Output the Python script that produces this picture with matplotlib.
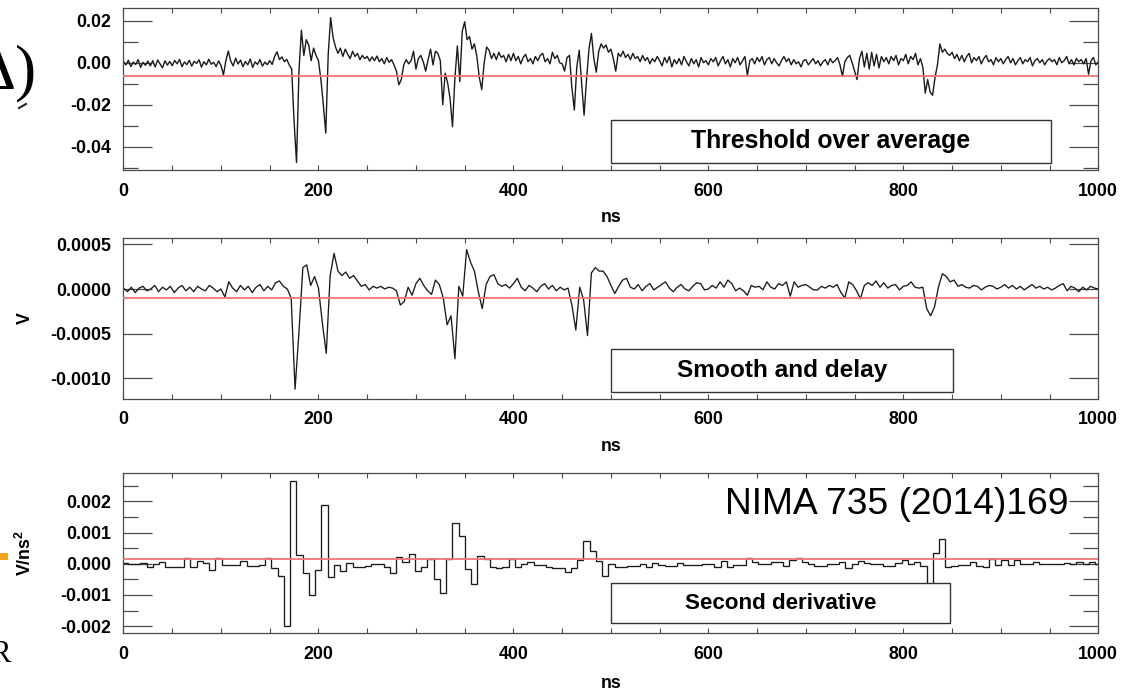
import numpy as np
import matplotlib
matplotlib.use("Agg")
import matplotlib.pyplot as plt
from matplotlib.patches import Rectangle
from matplotlib.lines import Line2D
from matplotlib.ticker import MultipleLocator, FixedLocator, FixedFormatter, NullLocator

plt.rcParams['font.family'] = ['Liberation Sans', 'DejaVu Sans']
plt.rcParams['font.weight'] = 'bold'
plt.rcParams['mathtext.fontset'] = 'custom'
plt.rcParams['mathtext.rm'] = 'Liberation Sans:bold'
plt.rcParams['mathtext.bf'] = 'Liberation Sans:bold'

# ---------------------------------------------------------------- data
# Raw digitised waveform (mV), one sample every 2.5 ns from 0 to 1000 ns
raw_step_ns = 2.5
raw_mv = [
    0.5, -1.0, 1.2, -1.8, 0.3, -0.8, 1.5, -2.2, 0.2, -1.2, 0.8, -1.5, 1.0, -2.0, 1.3, -0.6, -2.4, 0.9, -1.1, 0.6,
    -1.4, 1.1, -0.5, 1.6, -1.9, 0.4, -0.9, 1.2, -1.6, 0.7, -0.3, 1.4, -2.1, 0.5, -1.0, 1.7, -0.7, 0.2, -1.8, 0.9,
    -1.2, -5.8, 1.0, 5.6, 0.8, -1.5, 2.2, -0.6, 1.3, -1.9, 0.6, -1.0, 1.8, -2.2, 0.4, -0.8, 1.5, -1.6, 0.3, -0.9,
    1.0, -0.8, 3.0, 5.2, 1.5, 2.8, 0.5, 1.6, -1.0, -3.0, -28.0, -47.5, -4.0, 15.5, 3.5, 11.0, 8.5, 1.0, 7.0, 3.5,
    1.0, -8.0, -20.0, -33.5, 4.0, 21.5, 12.0, 7.5, 4.5, 7.0, 3.0, 6.5, 4.0, 2.0, 5.5, 3.0, 4.5, 1.5, 3.5, 2.0,
    3.0, 0.8, 2.8, 1.0, 3.2, 0.5, 2.0, -0.5, 2.5, 0.2, 1.5, -1.0, -4.0, -10.5, -8.0, -1.0, 1.5, -0.5, 1.0, 5.5,
    -3.0, 2.0, 3.5, 0.5, -4.0, 1.5, 6.5, -1.0, 5.5, 4.5, 1.0, -20.0, -5.0, -9.5, -17.0, -30.5, -7.0, 8.0, -9.0, 15.0,
    19.5, 11.0, 12.5, 6.5, 9.0, 3.0, -7.0, -12.8, 0.0, 7.5, 6.0, 2.0, 4.5, 1.5, 5.0, 2.5, 3.5, 0.5, 4.0, 1.0,
    4.5, 1.0, 3.0, -0.5, 2.5, 4.0, 0.5, 2.0, -0.5, 3.0, 1.0, 3.5, 4.5, 0.5, 2.0, -0.5, 5.0, 2.0, 3.5, 0.0,
    -0.5, -4.0, 2.5, 3.5, -12.0, -22.5, -2.0, 6.0, -10.0, -25.0, -8.0, 6.5, 14.0, 2.0, -4.5, 5.5, 9.0, 7.0, 8.5, 5.0,
    6.5, 2.0, -4.0, 4.5, 3.0, 5.5, 2.5, 4.0, 1.5, 4.5, 2.0, 3.0, 0.5, 3.5, 1.0, 2.5, -0.5, 2.0, 0.5, 3.0,
    1.0, -1.5, 2.5, 0.0, 3.0, -2.0, 1.5, -0.5, 2.0, -1.0, 3.0, 0.5, -1.5, 2.0, -0.5, 1.5, -2.0, 2.5, 0.0, 1.0,
    -1.0, 2.0, 0.5, 2.5, -1.5, 1.0, 3.0, -0.5, 1.5, -2.0, 2.0, 0.0, 2.5, -1.0, 1.0, 3.0, -6.0, 1.0, 2.0, -0.5,
    2.5, 0.5, 3.0, -1.0, 1.5, 2.5, -0.5, 2.0, 0.0, -1.5, 1.0, 3.0, 0.5, 2.0, -1.0, 1.5, -0.5, 0.5, -2.0, 1.0,
    1.5, -1.0, 0.5, 2.0, -0.5, 1.0, -1.5, 0.5, 1.5, -1.0, 2.0, 0.0, 1.0, 2.5, -1.0, -6.5, 0.5, 2.5, 3.5, 0.0,
    -4.0, -8.0, 2.0, 5.5, -2.0, 4.5, -3.0, 5.0, -1.5, 4.0, -2.5, 3.0, 0.5, 2.5, -0.5, 3.0, 1.0, 3.5, -1.0, 2.0,
    1.0, 4.0, -0.5, 3.0, 1.5, 4.5, -1.0, 2.0, -2.0, -14.5, -8.0, -14.0, -15.5, -7.0, -1.0, 9.0, 5.0, 6.5, 4.5, 3.5,
    5.0, 2.0, 4.0, 1.0, 3.5, 0.5, 3.0, 4.5, 0.0, 2.5, 1.0, 3.0, -0.5, 2.0, 3.5, 0.5, 1.5, -1.0, 2.5, 0.5,
    2.0, -0.5, 1.5, 3.0, 0.0, 2.0, -1.0, 1.0, 2.5, -0.5, 1.5, 0.5, 2.5, -1.5, 1.0, 2.0, 0.0, 1.5, -1.0, 1.0,
    2.0, 0.5, 1.5, -1.0, 2.5, 0.0, 1.0, 3.0, -0.5, 1.5, -1.0, 2.0, 0.5, 1.5, -0.5, 2.0, -5.5, 1.0, 2.5, -1.0,
    0.5,
]

# Smoothed and delayed waveform (units of 1e-5 V), one sample every 4 ns
smooth_step_ns = 4.0
smooth_1e5v = [
    1, -3, 2, -4, 1, 3, -2, 0, 4, -3, 2, -1, 3, -4, 1, 4, -2, 2, -3, 3, 0, -2, 4, 1, -3,
    0, -9, 8, 1, -3, 4, -1, 3, -4, 2, 5, -2, 3, -1, 7, 9, 3, 0, -10, -112, -48, 24, 27, 4, 14,
    1, -38, -72, 15, 40, 20, 15, 19, 12, 15, 9, 3, 5, -1, 3, 1, 3, 0, 2, 1, -2, -18, -14, 2, -7,
    6, 12, 4, -2, -6, 10, 5, -10, -40, -30, -78, 3, -8, 44, 30, 20, -3, -22, 5, 14, 16, 6, 3, 5, 1,
    6, 12, 2, -2, 4, 1, -3, 3, 6, 0, 4, -2, 2, -1, 1, -18, -46, 2, -12, -52, 18, 24, 20, 20, 14,
    4, -5, 3, 10, 12, 2, 0, 5, -2, 3, 6, -1, 2, 5, 8, 1, -3, 2, 5, 0, -2, 3, 7, 6, -1,
    0, 4, 1, 8, 2, 10, 6, -2, 1, -2, -7, 4, 2, 3, -1, 8, 2, 0, 6, 4, 8, -8, 8, 2, 4,
    5, 2, -1, -1, 3, 1, 4, 2, 5, -4, -10, 8, 5, -2, -11, 4, 7, 4, 9, 2, 7, 1, 4, 5, -1,
    3, 4, 8, 2, 1, 2, -22, -30, -20, 2, 17, 14, 8, 10, 3, 5, 2, 1, 4, 3, -1, 2, 4, 3, 0,
    2, 5, 1, 4, 0, 3, -1, 2, 5, 1, 3, 0, 2, -1, 1, 4, 6, -2, 3, 1, -3, 2, -1, 3, 1,
    0,
]

# Binned second derivative (units of 1e-5 V/ns^2)
deriv_bin_ns = 6.4
deriv_first_edge_ns = -1.8
deriv_1e5 = [
    3, -1, 0, 3, -10, 0, 5, -10, -10, -10,
    20, -10, 10, 3, -20, 20, -4, -4, -4, 10,
    -6, -6, -4, 20, -15, -40, -200, 265, 28, -30,
    -100, -20, 190, -44, -4, -22, 4, -10, -10, -8,
    0, -2, -10, -30, 22, 6, 30, -22, -10, 14,
    -50, -93, 14, 130, 90, -18, -66, 25, 15, -10,
    -12, -10, 14, -10, -1, 6, -4, -4, -10, -15,
    -15, -26, -15, 12, 72, 40, 10, -40, 0, -10,
    -10, -7, -7, -1, -10, 3, -4, -7, -7, 1,
    -5, -4, -4, -1, -1, -10, 10, -10, -4, -4,
    19, 6, -1, -1, 6, 6, -7, 12, 20, 6,
    0, -7, -7, 0, 0, 6, -12, 0, 10, 3,
    0, 0, -7, -7, 3, 12, 0, 6, -7, -80,
    33, 78, -10, -7, -4, -4, 6, -7, -10, 14,
    -4, 12, -4, 12, -1, 0, 6, 0, 0, -1,
    0, 3, 0, 6, 0, 6, 0,
]

# Trigger thresholds
thr_raw = -0.0063
thr_smooth = -0.0001
thr_deriv = 0.00016

x_ticks = [0, 200, 400, 600, 800, 1000]
x_labels = ['0', '200', '400', '600', '800', '1000']
raw_yticks = [-0.04, -0.02, 0.0, 0.02]
raw_ylabels = ['-0.04', '-0.02', '0.00', '0.02']
smooth_yticks = [-0.0010, -0.0005, 0.0, 0.0005]
smooth_ylabels = ['-0.0010', '-0.0005', '0.0000', '0.0005']
deriv_yticks = [-0.002, -0.001, 0.0, 0.001, 0.002]
deriv_ylabels = ['-0.002', '-0.001', '0.000', '0.001', '0.002']

panel_titles = ['Threshold over average', 'Smooth and delay', 'Second derivative']
reference_note = 'NIMA 735 (2014)169'

# ---------------------------------------------------------------- figure
W, H = 1124, 692
fig = plt.figure(figsize=(W / 100, H / 100), dpi=100)

FRAME = '#4a4a4a'
TRACE = '#1a1a1a'
THR = '#f07676'
TICK_FS = 12.8


def add_axes_px(left, top, right, bottom):
    return fig.add_axes([left / W, 1 - bottom / H, (right - left) / W, (bottom - top) / H])


def style_axes(ax, ylim, yticks, ylabels, yminor, xlabelpad=7):
    ax.set_xlim(0, 1000)
    ax.set_ylim(*ylim)
    ax.xaxis.set_major_locator(FixedLocator(x_ticks))
    ax.xaxis.set_major_formatter(FixedFormatter(x_labels))
    ax.xaxis.set_minor_locator(MultipleLocator(50))
    ax.yaxis.set_major_locator(FixedLocator(yticks))
    ax.yaxis.set_major_formatter(FixedFormatter(ylabels))
    if yminor:
        ax.yaxis.set_minor_locator(MultipleLocator(yminor))
    else:
        ax.yaxis.set_minor_locator(NullLocator())
    ax.tick_params(axis='x', which='both', direction='in', length=3.3, width=0.8,
                   top=True, bottom=True, color=FRAME, pad=9, labelsize=TICK_FS)
    ax.tick_params(axis='y', which='major', direction='in', length=21, width=0.9,
                   left=True, right=True, color=FRAME, pad=9, labelsize=TICK_FS)
    ax.tick_params(axis='y', which='minor', direction='in', length=10.8, width=0.9,
                   left=True, right=True, color=FRAME)
    for sp in ax.spines.values():
        sp.set_color(FRAME)
        sp.set_linewidth(0.9)
    ax.set_xlabel('ns', fontsize=TICK_FS, fontweight='bold', labelpad=xlabelpad)


def label_box(ax, x0, x1, y0, y1, text, fs):
    ax.add_patch(Rectangle((x0, y0), x1 - x0, y1 - y0, transform=ax.transAxes,
                           facecolor='white', edgecolor='#333333', lw=1.0, zorder=5))
    ax.text((x0 + x1) / 2, (y0 + y1) / 2, text, transform=ax.transAxes,
            ha='center', va='center', fontsize=fs, fontweight='bold', color='black', zorder=6)


# Panel 1: raw signal
ax1 = add_axes_px(123.5, 8, 1098.3, 170)
t_raw = np.arange(len(raw_mv)) * raw_step_ns
ax1.plot(t_raw, np.array(raw_mv) * 1e-3, color=TRACE, lw=1.0, zorder=2)
ax1.axhline(thr_raw, color=THR, lw=1.3, zorder=3)
style_axes(ax1, (-0.0511, 0.0261), raw_yticks, raw_ylabels, 0.01)
label_box(ax1, 0.5001, 0.9512, 0.043, 0.309, panel_titles[0], 17.8)

# Panel 2: smoothed signal
ax2 = add_axes_px(123.5, 238.3, 1098.3, 399)
t_smooth = np.arange(len(smooth_1e5v)) * smooth_step_ns
ax2.plot(t_smooth, np.array(smooth_1e5v) * 1e-5, color=TRACE, lw=0.95, zorder=2)
ax2.axhline(thr_smooth, color=THR, lw=1.3, zorder=3)
style_axes(ax2, (-0.00123, 0.000567), smooth_yticks, smooth_ylabels, None)
label_box(ax2, 0.5001, 0.8506, 0.042, 0.311, panel_titles[1], 17.6)

# Panel 3: second derivative
ax3 = add_axes_px(123.5, 472.7, 1098.3, 633.3)
edges = deriv_first_edge_ns + deriv_bin_ns * np.arange(len(deriv_1e5) + 1)
ax3.stairs(np.array(deriv_1e5) * 1e-5, edges, baseline=None, color=TRACE, lw=0.95, zorder=2)
ax3.axhline(thr_deriv, color=THR, lw=1.3, zorder=3)
style_axes(ax3, (-0.00223, 0.00292), deriv_yticks, deriv_ylabels, 0.0005, xlabelpad=9)
label_box(ax3, 0.5001, 0.8479, 0.062, 0.311, panel_titles[2], 16.1)

# Axis titles
fig.text(25 / W, 1 - 318 / H, 'V', rotation=90, ha='center', va='center',
         fontsize=TICK_FS, fontweight='bold')
fig.text(25 / W, 1 - 553 / H, r'V/ns$^{\mathbf{2}}$', rotation=90, ha='center', va='center',
         fontsize=TICK_FS, fontweight='bold')

# Citation
fig.text(725 / W, 1 - 514 / H, reference_note, ha='left', va='baseline',
         fontsize=26.8, fontweight='normal', color='black')

# Slide fragments at the left margin
fig.text(37 / W, 1 - 88 / H, '\u0394)', ha='right', va='baseline',
         fontsize=46, fontweight='normal', family=['Liberation Serif', 'DejaVu Serif'])
fig.add_artist(Line2D([19 / W, 26 / W], [1 - 108 / H, 1 - 104 / H], color='#222222', lw=1.5))
fig.add_artist(Rectangle((0, 1 - 560 / H), 8 / W, 7 / H, transform=fig.transFigure,
                         facecolor='#f5a31a', edgecolor='none'))
fig.text(10 / W, 1 - 662 / H, 'R', ha='right', va='baseline',
         fontsize=22, fontweight='normal', family=['Liberation Serif', 'DejaVu Serif'])

fig.savefig('out.png', dpi=100)
